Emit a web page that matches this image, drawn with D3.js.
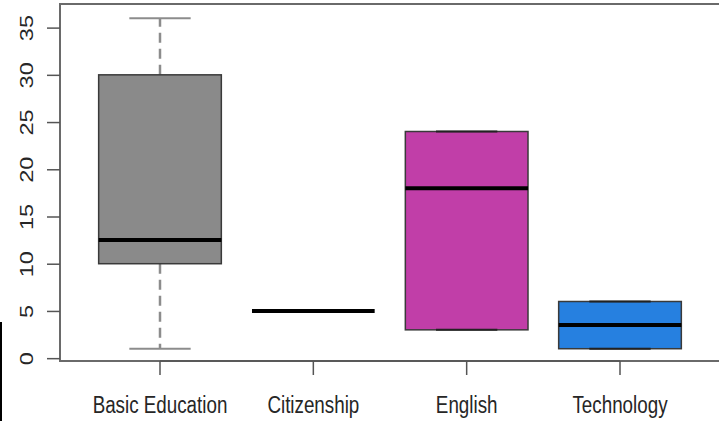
<!DOCTYPE html>
<html>
<head>
<meta charset="utf-8">
<script src="https://cdn.jsdelivr.net/npm/d3@7"></script>
<style>
  html, body { margin: 0; padding: 0; background: #fff; }
  svg { display: block; }
  text { font-family: "Liberation Sans", Arial, sans-serif; fill: #262626; }
</style>
</head>
<body>
<svg id="chart" width="719" height="421"></svg>
<script>
// ---- data ----
const categories = ["Basic Education", "Citizenship", "English", "Technology"];
const lowerWhisker = [1, 5, 3, 1];
const q1Values     = [10, 5, 3, 1];
const medianValues = [12.5, 5, 18, 3.5];
const q3Values     = [30, 5, 24, 6];
const upperWhisker = [36, 5, 24, 6];
const fillColors   = ["#8a8a8a", "#8a8a8a", "#c13ea8", "#2680e0"];
const yTickValues  = [0, 5, 10, 15, 20, 25, 30, 35];

const boxes = categories.map((c, i) => ({
  cat: c, lo: lowerWhisker[i], q1: q1Values[i], med: medianValues[i],
  q3: q3Values[i], hi: upperWhisker[i], fill: fillColors[i]
}));

const svg = d3.select("#chart");
const W = 719, H = 421;
const plot = { left: 60, top: 4, bottom: 361, right: 740 };

const x = d3.scaleBand().domain(categories).range([83.33, 696.67]).padding(0);
const y = d3.scaleLinear().domain([-0.3, 37.5]).range([plot.bottom, plot.top]);

const bw = x.bandwidth() * 0.8;
const cx = d => x(d) + x.bandwidth() / 2;
const textScaleY = 1.25;
const fontSize = 18.8;

// boxes
const g = svg.append("g");
boxes.forEach(b => {
  const c = cx(b.cat);
  const degenerate = b.q1 === b.q3;
  // whiskers (dashed)
  if (b.hi > b.q3) {
    g.append("line").attr("x1", c).attr("x2", c)
      .attr("y1", y(b.q3)).attr("y2", y(b.hi))
      .attr("stroke", "#8c8c8c").attr("stroke-width", 2.5).attr("stroke-dasharray", "10,6");
  }
  if (b.lo < b.q1) {
    g.append("line").attr("x1", c).attr("x2", c)
      .attr("y1", y(b.q1)).attr("y2", y(b.lo))
      .attr("stroke", "#8c8c8c").attr("stroke-width", 2.5).attr("stroke-dasharray", "10,6");
  }
  if (!degenerate) {
    g.append("rect")
      .attr("x", c - bw / 2).attr("y", y(b.q3))
      .attr("width", bw).attr("height", y(b.q1) - y(b.q3))
      .attr("fill", b.fill).attr("stroke", "#3a3a3a").attr("stroke-width", 1.5);
    // staples
    [b.lo, b.hi].forEach(v => {
      g.append("line").attr("x1", c - bw / 4).attr("x2", c + bw / 4)
        .attr("y1", y(v)).attr("y2", y(v))
        .attr("stroke", (v === b.q1 || v === b.q3) ? "#222" : "#8c8c8c")
        .attr("stroke-width", 2);
    });
  }
  // median
  g.append("line").attr("x1", c - bw / 2).attr("x2", c + bw / 2)
    .attr("y1", y(b.med)).attr("y2", y(b.med))
    .attr("stroke", "#000").attr("stroke-width", 4);
});

// plot frame
svg.append("rect")
  .attr("x", plot.left).attr("y", plot.top)
  .attr("width", plot.right - plot.left).attr("height", plot.bottom - plot.top)
  .attr("fill", "none").attr("stroke", "#6a6a6a").attr("stroke-width", 2);

// y axis
const yAxis = d3.axisLeft(y).tickValues(yTickValues).tickSize(13).tickPadding(0).tickFormat(d3.format("d"));
const ya = svg.append("g").attr("transform", `translate(${plot.left},0)`).call(yAxis);
ya.select(".domain").remove();
ya.selectAll(".tick line").attr("stroke", "#555").attr("stroke-width", 1.5);
ya.selectAll(".tick text").remove();
ya.selectAll(".tick").append("text")
  .attr("transform", `translate(${33 - plot.left},0) scale(1,${textScaleY}) rotate(-90)`)
  .attr("text-anchor", "middle")
  .attr("font-size", fontSize)
  .text(d => d);

// x axis
const xAxis = d3.axisBottom(x).tickSize(14).tickPadding(0);
const xa = svg.append("g").attr("transform", `translate(0,${plot.bottom})`).call(xAxis);
xa.select(".domain").attr("d", `M${cx(categories[0])},0H${cx(categories[categories.length - 1])}`)
  .attr("stroke", "#555").attr("stroke-width", 1.5);
xa.selectAll(".tick line").attr("stroke", "#555").attr("stroke-width", 1.5);
xa.selectAll(".tick text").remove();
xa.selectAll(".tick").append("text")
  .attr("transform", `translate(0,${413.3 - plot.bottom}) scale(1,${textScaleY})`)
  .attr("text-anchor", "middle")
  .attr("font-size", fontSize)
  .text(d => d);

// stray black edge line seen at lower-left of the reference image
svg.append("line").attr("x1", 1).attr("x2", 1).attr("y1", 322).attr("y2", H)
  .attr("stroke", "#000").attr("stroke-width", 2);
</script>
</body>
</html>
